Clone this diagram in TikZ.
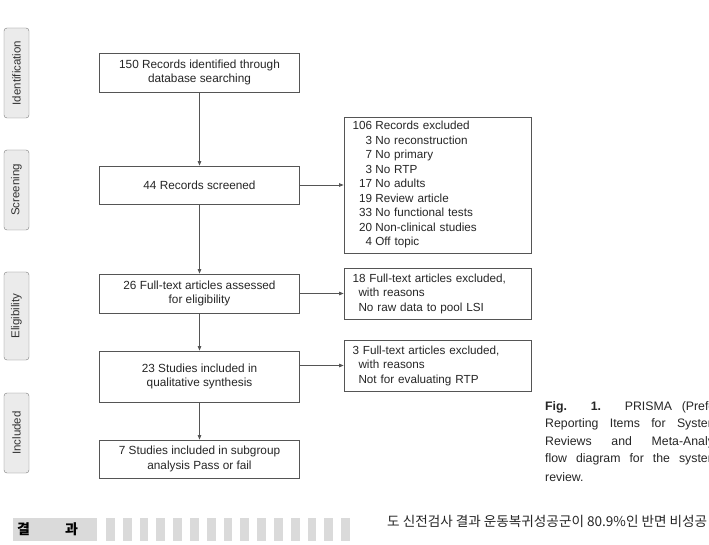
\documentclass[tikz,border=0pt]{standalone}
\usepackage{fontspec}
\setmainfont{Liberation Sans}
\newfontfamily\krfont{Noto Sans CJK KR}
\usetikzlibrary{arrows.meta}
\definecolor{lineg}{HTML}{555555}
\definecolor{labfill}{HTML}{EBEBEB}
\definecolor{labdraw}{HTML}{7A7A7A}
\definecolor{stripeg}{HTML}{DADADA}
\tikzset{
  flowbox/.style={draw=lineg, line width=0.8pt, fill=white, inner sep=0pt,
    minimum width=200pt, align=center, font=\fontsize{11.8}{14.3}\selectfont, text=black!85},
  exbox/.style={draw=lineg, line width=0.8pt, fill=white, inner xsep=8.5pt, inner ysep=0pt,
    text width=170pt, align=left, font=\fontsize{11.7}{14.5}\selectfont, text=black!85},
  phase/.style={draw=labdraw, fill=labfill, rounded corners=3pt, rotate=90,
    minimum height=25pt, inner sep=0pt, font=\fontsize{11.5}{13}\selectfont, text=black!80},
  arr/.style={draw=lineg, line width=0.8pt, -{Triangle[length=4.5pt,width=3.5pt]}},
  capline/.style={anchor=west, inner sep=0pt, font=\fontsize{12.3}{14}\selectfont, text=black!85},
  stripe/.style={fill=stripeg, draw=none}
}
\begin{document}
\begin{tikzpicture}[x=1pt,y=-1pt]
\useasboundingbox (0,0) rectangle (709,545);
\clip (0,0) rectangle (709,545);
\fill[white] (0,0) rectangle (709,545);

% phase labels
\node[phase, minimum width=90pt] (pid) at (16.5,73) {Identification};
\node[phase, minimum width=80pt] (psc) at (16.5,190) {Screening};
\node[phase, minimum width=88pt] (pel) at (16.5,316) {Eligibility};
\node[phase, minimum width=80pt] (pin) at (16.5,433) {Included};

% main boxes
\node[flowbox, minimum height=39pt] (b1) at (199.5,72.5) {150 Records identified through\\database searching};
\node[flowbox, minimum height=38pt] (b2) at (199.5,185) {44 Records screened};
\node[flowbox, minimum height=39pt] (b3) at (199.5,293.5) {26 Full-text articles assessed\\for eligibility};
\node[flowbox, minimum height=51pt] (b4) at (199.5,376.5) {23 Studies included in\\qualitative synthesis};
\node[flowbox, minimum height=38pt] (b5) at (199.5,459) {7 Studies included in subgroup\\analysis Pass or fail};

% exclusion boxes
\node[exbox, minimum height=136pt] (e1) at (437.5,185) {%
\renewcommand{\arraystretch}{1}%
\begin{tabular}{@{}r@{\hspace{3.3pt}}l@{}}
106 & Records excluded\\
3 & No reconstruction\\
7 & No primary\\
3 & No RTP\\
17 & No adults\\
19 & Review article\\
33 & No functional tests\\
20 & Non-clinical studies\\
4 & Off topic
\end{tabular}};
\node[exbox, minimum height=51pt] (e2) at (437.5,293.5) {18 Full-text articles excluded,\\\hspace*{6pt}with reasons\\\hspace*{6pt}No raw data to pool LSI};
\node[exbox, minimum height=51pt] (e3) at (437.5,365.5) {3 Full-text articles excluded,\\\hspace*{6pt}with reasons\\\hspace*{6pt}Not for evaluating RTP};

% connectors
\draw[arr] (b1) -- (b2);
\draw[arr] (b2) -- (b3);
\draw[arr] (b3) -- (b4);
\draw[arr] (b4) -- (b5);
\draw[arr] (b2.east |- e1.west) -- (e1.west);
\draw[arr] (b3.east |- e2.west) -- (e2.west);
\draw[arr] (b4.east |- e3.west) -- (e3.west);

% caption
\node[capline] (c1) at (545,407) {\makebox[192pt][s]{\textbf{Fig.} \textbf{1.} PRISMA (Preferred}};
\node[capline] (c2) at (545,424.5) {\makebox[192pt][s]{Reporting Items for Systematic}};
\node[capline] (c3) at (545,442) {\makebox[192pt][s]{Reviews and Meta-Analyses)}};
\node[capline] (c4) at (545,459.5) {\makebox[192pt][s]{flow diagram for the systematic}};
\node[capline] (c5) at (545,477) {review.};

% bottom section header
\fill[stripeg] (13,518) rectangle (97,541);
\node[inner sep=0pt, font=\krfont\bfseries\fontsize{14}{16}\selectfont] (k1) at (23.5,529.5) {결};
\node[inner sep=0pt, font=\krfont\bfseries\fontsize{14}{16}\selectfont] (k2) at (71.5,529.5) {과};
\foreach \i in {0,...,14} {
  \fill[stripeg] ({106+\i*16.8},518) rectangle ({114.7+\i*16.8},541);
}
\node[anchor=west, inner sep=0pt, font=\krfont\fontsize{13.6}{16}\selectfont, text=black!85] (kt) at (387,521) {도 신전검사 결과 운동복귀성공군이 80.9\%인 반면 비성공};
\end{tikzpicture}
\end{document}
